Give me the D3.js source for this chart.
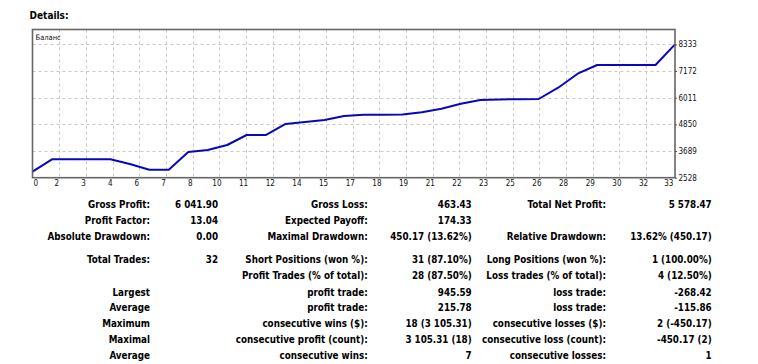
<!DOCTYPE html>
<html>
<head>
<meta charset="utf-8">
<script src="https://cdn.jsdelivr.net/npm/d3@7"></script>
<style>
  html, body { margin: 0; padding: 0; background: #fff; }
  svg { display: block; }
  .tbl text { font-family: "DejaVu Sans Condensed", "DejaVu Sans", sans-serif; font-weight: bold; font-size: 9.75px; fill: #000; }
  .ax text { font-family: "DejaVu Sans Condensed", "DejaVu Sans", sans-serif; font-size: 8px; fill: #111; }
</style>
</head>
<body>
<script>
// ---- data ----
const tradeIndex = d3.range(34);
const balance = [2789, 3329, 3329, 3329, 3329, 3124, 2876, 2876, 3647, 3734,
                 3951, 4387, 4387, 4866, 4953, 5040, 5214, 5270, 5270, 5275,
                 5375, 5532, 5749, 5910, 5932, 5945, 5954, 6446, 7055, 7434,
                 7434, 7434, 7434, 8333];
const xTickLabels = ["0","2","3","4","6","7","8","10","11","12","14","15","17","18","19","21","22","23","25","26","28","29","30","32","33"];
const yTickValues = [2528, 3689, 4850, 6011, 7172, 8333];
const chartTitle = "Баланс";
const sectionTitle = "Details:";

const rowLabels1 = ["Gross Profit:", "Profit Factor:", "Absolute Drawdown:", "Total Trades:", "", "Largest", "Average", "Maximum", "Maximal", "Average"];
const rowValues1 = ["6 041.90", "13.04", "0.00", "32", "", "", "", "", "", ""];
const rowLabels2 = ["Gross Loss:", "Expected Payoff:", "Maximal Drawdown:", "Short Positions (won %):", "Profit Trades (% of total):", "profit trade:", "profit trade:", "consecutive wins ($):", "consecutive profit (count):", "consecutive wins:"];
const rowValues2 = ["463.43", "174.33", "450.17 (13.62%)", "31 (87.10%)", "28 (87.50%)", "945.59", "215.78", "18 (3 105.31)", "3 105.31 (18)", "7"];
const rowLabels3 = ["Total Net Profit:", "", "Relative Drawdown:", "Long Positions (won %):", "Loss trades (% of total):", "loss trade:", "loss trade:", "consecutive losses ($):", "consecutive loss (count):", "consecutive losses:"];
const rowValues3 = ["5 578.47", "", "13.62% (450.17)", "1 (100.00%)", "4 (12.50%)", "-268.42", "-115.86", "2 (-450.17)", "-450.17 (2)", "1"];

// ---- layout ----
const W = 758, H = 364;
const plot = { left: 32.5, right: 675, top: 29.5, bottom: 177.7 };
const rowY = [204.3, 221, 237, 260, 276, 292.3, 308, 324, 340, 356];
const colRight = [150, 218, 367.7, 471.7, 606, 711.7];

const svg = d3.select("body").append("svg").attr("width", W).attr("height", H);

svg.append("text").attr("x", 29.5).attr("y", 15.7).attr("dy", "0.35em")
  .style("font-family", "'DejaVu Sans Condensed', 'DejaVu Sans', sans-serif")
  .style("font-weight", "bold").style("font-size", "10px").text(sectionTitle);

const x = d3.scaleLinear().domain([0, 33]).range([plot.left, plot.right]);
const y = d3.scaleLinear().domain([2528, 8979]).range([plot.bottom, plot.top]);
const gx = d3.scaleLinear().domain([0, 24]).range([plot.left + 0.2, plot.left + 0.2 + 24 * 26.67]);

// grid
const grid = svg.append("g").attr("stroke", "#c8c8c8").attr("stroke-dasharray", "3,3").attr("stroke-width", 1);
grid.selectAll("line.v").data(d3.range(1, 24)).join("line")
  .attr("x1", d => Math.round(gx(d)) + 0.5).attr("x2", d => Math.round(gx(d)) + 0.5)
  .attr("y1", plot.top).attr("y2", plot.bottom);
grid.selectAll("line.h").data(yTickValues.slice(1)).join("line")
  .attr("x1", plot.left).attr("x2", plot.right)
  .attr("y1", d => Math.round(y(d)) + 0.5).attr("y2", d => Math.round(y(d)) + 0.5);

// line
const line = d3.line().x((d, i) => x(tradeIndex[i])).y(d => y(d));
svg.append("path").datum(balance).attr("d", line)
  .attr("fill", "none").attr("stroke", "#0808b8").attr("stroke-width", 2)
  .attr("stroke-linejoin", "round");

// frame
svg.append("rect").attr("x", plot.left).attr("y", plot.top)
  .attr("width", plot.right - plot.left).attr("height", plot.bottom - plot.top)
  .attr("fill", "none").attr("stroke", "#666").attr("stroke-width", 1.6);

svg.append("text").attr("x", 35.5).attr("y", 37.3).attr("dy", "0.35em")
  .style("font-family", "'DejaVu Sans Condensed', 'DejaVu Sans', sans-serif")
  .style("font-size", "7.5px").style("fill", "#111").text(chartTitle);

// y axis
const yAxis = svg.append("g").attr("class", "ax").attr("transform", `translate(${plot.right},0)`)
  .call(d3.axisRight(y).tickValues(yTickValues).tickSize(2).tickPadding(1.5).tickFormat(d3.format("d")));
yAxis.select(".domain").remove();
yAxis.selectAll(".tick line").attr("stroke", "#555");

// x axis
const xAxis = svg.append("g").attr("class", "ax").attr("transform", `translate(0,${plot.bottom})`)
  .call(d3.axisBottom(gx).tickValues(d3.range(25)).tickSize(0).tickPadding(3).tickFormat(i => xTickLabels[i]));
xAxis.select(".domain").remove();
xAxis.selectAll(".tick text").attr("dx", (d, i) => i === 0 ? 2.5 : (i === 24 ? -4.5 : -3));

// table
const tbl = svg.append("g").attr("class", "tbl");
const cols = [rowLabels1, rowValues1, rowLabels2, rowValues2, rowLabels3, rowValues3];
cols.forEach((col, c) => {
  tbl.selectAll(null).data(col).join("text")
    .attr("x", colRight[c]).attr("y", (d, i) => rowY[i]).attr("dy", "0.35em")
    .attr("text-anchor", "end").text(d => d);
});
</script>
</body>
</html>
